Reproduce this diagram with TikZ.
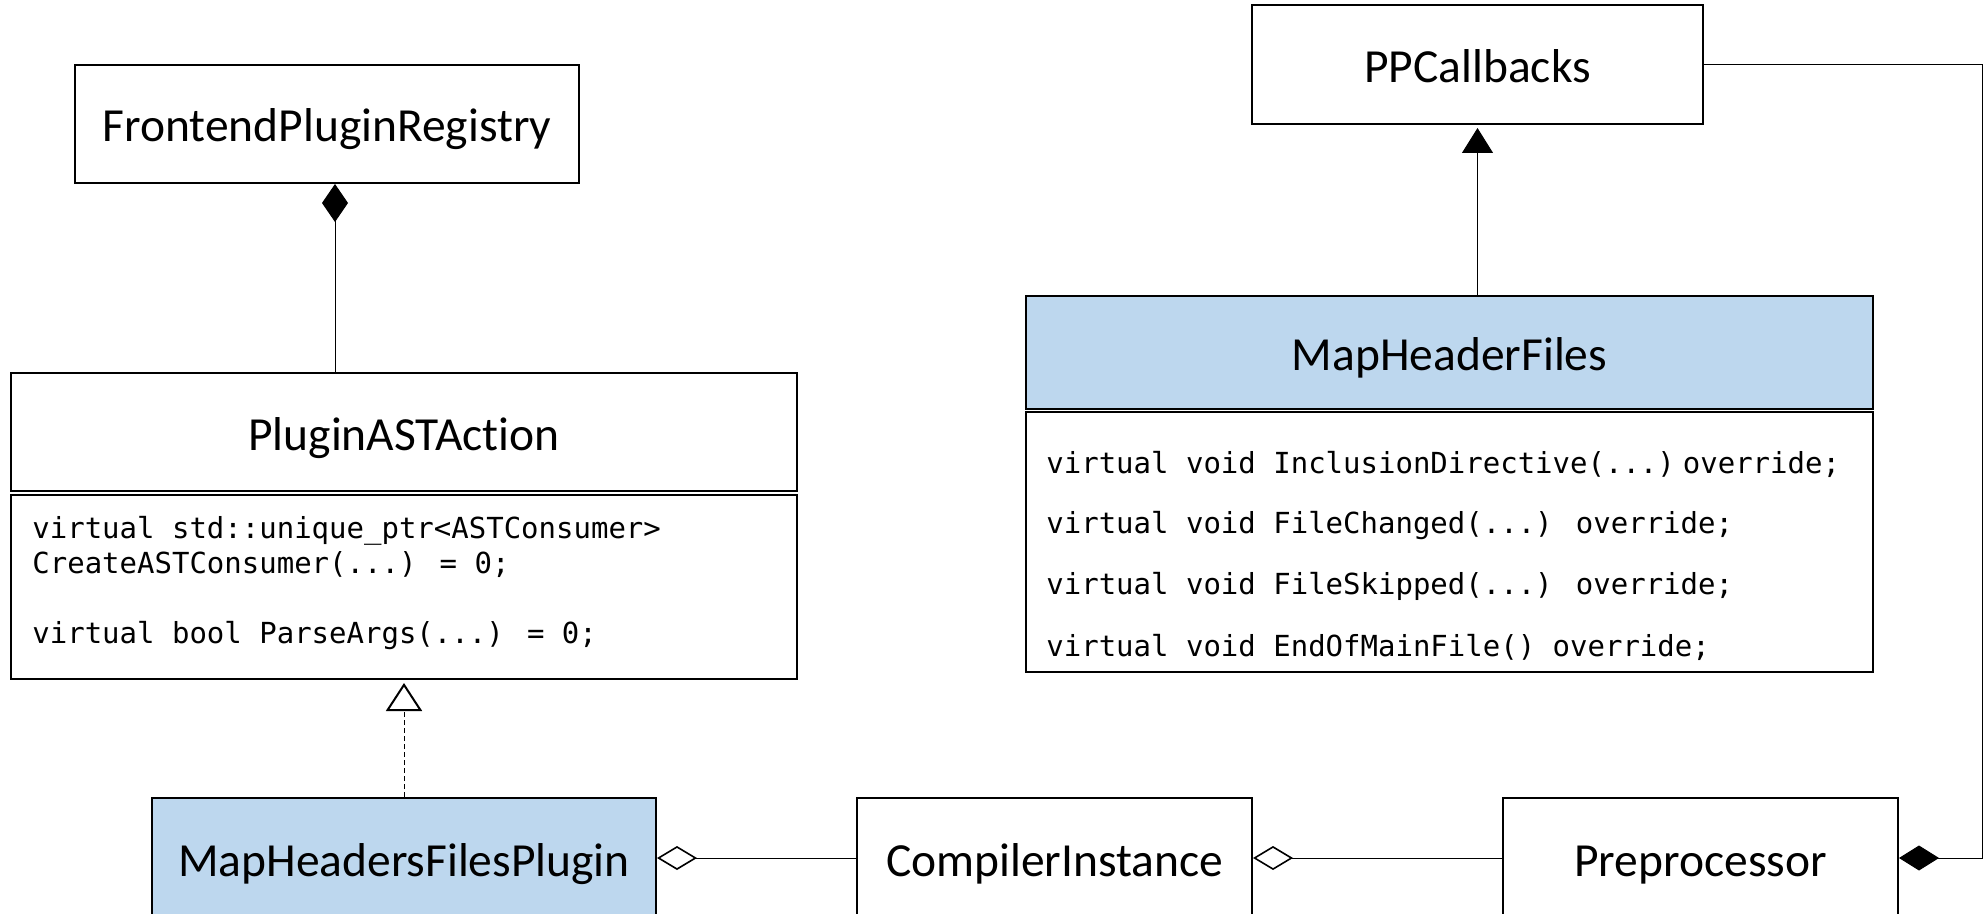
\documentclass[tikz,border=0pt]{standalone}
\usepackage{fontspec}
\setmainfont{Carlito}[Ligatures=NoCommon]
\newfontfamily\codefont{DejaVu Sans Mono}
\usetikzlibrary{arrows.meta,positioning}

\definecolor{classblue}{RGB}{189,215,238}

\tikzset{
	classbox/.style={draw, rectangle, line width=1pt, inner sep=0pt, font=\fontsize{23.75}{28}\selectfont, text height=20pt, text depth=2pt},
	codeline/.style={anchor=base west, inner sep=0pt, font=\codefont\fontsize{14.5}{17.5}\selectfont},
	link/.style={line width=0.5pt}
}

\begin{document}
\begin{tikzpicture}[x=0.5pt,y=-0.5pt]
	\useasboundingbox (0,0) rectangle (1985,914);
	\clip (0,0) rectangle (1985,914);
	% classes
	\node[classbox, minimum width=252pt, minimum height=59pt] (registry) at (327,124) {FrontendPluginRegistry};
	\node[classbox, minimum width=393pt, minimum height=59pt] (action) at (404,432) {PluginASTAction};
	\node[classbox, minimum width=393pt, minimum height=92pt] (actionops) at (404,587) {};
	\node[codeline] (create1) at (32,538) {virtual std::unique\_ptr<ASTConsumer>};
	\node[codeline] (create2) at (32,573) {CreateASTConsumer(...) = 0;};
	\node[codeline] (parse) at (32,643) {virtual bool ParseArgs(...) = 0;};
	\node[classbox, minimum width=225.5pt, minimum height=59.5pt] (ppcb) at (1477.5,64.5) {PPCallbacks};
	\node[classbox, fill=classblue, minimum width=423.5pt, minimum height=56.5pt] (mhf) at (1449.5,352.5) {MapHeaderFiles};
	\node[classbox, minimum width=423.5pt, minimum height=130pt] (mhfops) at (1449.5,542) {};
	\foreach \y/\txt [count=\i] in {473/{virtual void InclusionDirective(...)\hspace{4pt}override;},
		533/{virtual void FileChanged(...) override;},
		594/{virtual void FileSkipped(...) override;},
		656/{virtual void EndOfMainFile() override;}}
		\node[codeline] (cb\i) at (1046,\y) {\txt};
	\node[classbox, fill=classblue, minimum width=252pt, minimum height=60pt] (plugin) at (404,858) {MapHeadersFilesPlugin};
	\node[classbox, minimum width=197.5pt, minimum height=60pt] (compiler) at (1054.5,858) {CompilerInstance};
	\node[classbox, minimum width=197.5pt, minimum height=60pt] (prep) at (1700.5,858) {Preprocessor};
	\coordinate (bend) at (1982,64.5);
	% relations
	\draw[link, {Diamond[length=19pt, width=13pt]}-] ([xshift=4pt]registry.south) -- ([xshift=4pt]registry.south |- action.north);
	\draw[link, dash pattern=on 2.5pt off 1.5pt, -{Triangle[open, length=14pt, width=18pt, line width=1pt]}] (plugin.north) -- ([yshift=-1.5pt]actionops.south);
	\draw[link, -{Triangle[length=12.5pt, width=15.5pt]}] (mhf.north -| ppcb.south) -- ([yshift=-1.5pt]ppcb.south);
	\draw[link, {Diamond[open, length=20pt, width=12pt, line width=0.8pt]}-] (plugin.east) -- (compiler.west);
	\draw[link, {Diamond[open, length=20pt, width=12pt, line width=0.8pt]}-] (compiler.east) -- (prep.west);
	\draw[link, {Diamond[length=20pt, width=12.5pt]}-] (prep.east) -| (bend) -- (ppcb.east);
\end{tikzpicture}
\end{document}
